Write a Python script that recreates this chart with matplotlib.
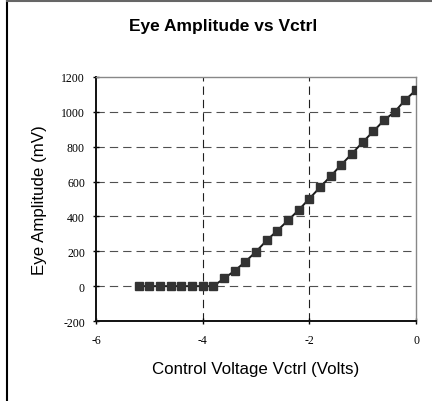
import numpy as np
import matplotlib
matplotlib.use("Agg")
import matplotlib.pyplot as plt
from matplotlib.lines import Line2D

# control voltage (V) and eye amplitude (mV)
vctrl = [-5.2, -5.0, -4.8, -4.6, -4.4, -4.2, -4.0, -3.8, -3.6, -3.4,
         -3.2, -3.0, -2.8, -2.6, -2.4, -2.2, -2.0, -1.8, -1.6, -1.4,
         -1.2, -1.0, -0.8, -0.6, -0.4, -0.2, 0.0]
eye_amp = [0, 0, 0, 0, 0, 0, 0, 0, 44, 88,
           140, 198, 262, 319, 377, 437, 502, 567, 631, 697,
           760, 826, 888, 952, 1000, 1069, 1125]
xticks = [-6, -4, -2, 0]
yticks = [-200, 0, 200, 400, 600, 800, 1000, 1200]

plt.rcParams['lines.scale_dashes'] = False

fig = plt.figure(figsize=(4.32, 4.02), dpi=100)
ax = fig.add_axes([0.2222, 0.199, 0.7408, 0.607])

# grid
for yv in yticks[1:-1]:
    ax.axhline(yv, color='#505050', lw=0.8, ls=(0, (6, 3.6)), zorder=1)
for xv in xticks[1:-1]:
    ax.axvline(xv, color='#202020', lw=0.8, ls=(0, (6, 3.6)), zorder=1)

ax.plot(vctrl, eye_amp, color='#1a1a1a', lw=1.4, marker='s', ms=6,
        mfc='#333333', mec='#333333', zorder=3)

ax.set_xlim(-6, 0)
ax.set_ylim(-200, 1200)
ax.set_xticks(xticks)
ax.set_yticks(yticks)
ax.set_xticklabels([str(t) for t in xticks], family='Liberation Serif', fontsize=8.5)
ax.set_yticklabels([str(t) for t in yticks], family='Liberation Serif', fontsize=8.5)
ax.tick_params(direction='inout', length=4, width=1)
ax.tick_params(axis='x', pad=7)
ax.tick_params(axis='y', pad=6)

for s in ['left', 'bottom']:
    ax.spines[s].set_color('#111111')
    ax.spines[s].set_linewidth(1.4)
for s in ['top', 'right']:
    ax.spines[s].set_color('#888888')
    ax.spines[s].set_linewidth(1.0)

ax.set_xlabel('Control Voltage Vctrl (Volts)', family='Liberation Sans', fontsize=12.2, labelpad=11)
ax.set_ylabel('Eye Amplitude (mV)', family='Liberation Sans', fontsize=12.2, labelpad=10)
fig.text(0.517, 0.923, 'Eye Amplitude vs Vctrl', family='Liberation Sans',
         fontsize=12.5, fontweight='bold', ha='center', va='baseline')

# outer frame (left and top edges visible)
fig.add_artist(Line2D([0.016, 0.016], [0, 0.998], transform=fig.transFigure, color='black', lw=1.5))
fig.add_artist(Line2D([0.016, 1.0], [0.996, 0.996], transform=fig.transFigure, color='#666666', lw=1.5))

fig.savefig('out.png', dpi=100)
